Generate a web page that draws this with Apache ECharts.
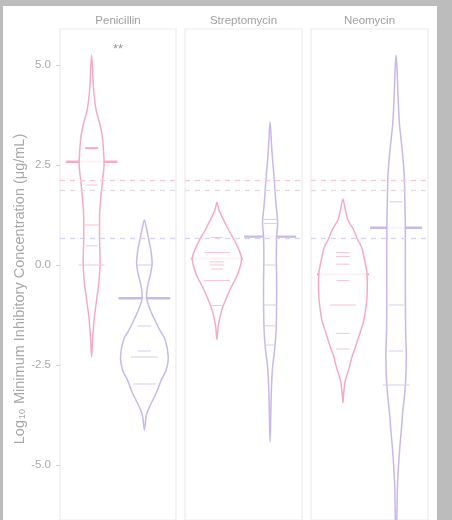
<!DOCTYPE html>
<html>
<head>
<meta charset="utf-8">
<script src="https://cdn.jsdelivr.net/npm/echarts@6/dist/echarts.min.js"></script>
<style>html,body{margin:0;padding:0;background:#bcbcbc;overflow:hidden;}#c{width:452px;height:520px;}</style>
</head>
<body>
<div id="c"></div>
<script>
// ---------- DATA ----------
const drugs = ['Penicillin', 'Streptomycin', 'Neomycin'];
const yTicks = [-5, -2.5, 0, 2.5, 5];
const yRange = [-6.375, 5.9];
const referenceLines = [2.125, 1.875, 0.67];
const significance = [['**', 0, 0.5, 5.38]]; // text, panel, x, y

// violin profiles: [log10 MIC, half-width (category units)]
const penicillinPinkProfile = [[5.25,0],[4.875,0.019],[4.375,0.038],[3.875,0.085],[3.55,0.151],[3.25,0.198],[2.95,0.221],[2.5,0.236],[2.125,0.208],[1.625,0.17],[1.25,0.151],[0.625,0.151],[0,0.16],[-0.5,0.132],[-0.875,0.094],[-1.375,0.047],[-1.875,0.019],[-2.3,0]];
const penicillinPurpleProfile = [[1.125,0],[0.875,0.047],[0.625,0.085],[0.375,0.123],[0.05,0.147],[-0.25,0.113],[-0.5,0.066],[-0.825,0.042],[-1.125,0.113],[-1.375,0.198],[-1.625,0.292],[-1.875,0.396],[-2.3,0.453],[-2.625,0.415],[-2.875,0.321],[-3.2,0.226],[-3.5,0.113],[-3.75,0.038],[-4.125,0]];
const streptomycinPinkProfile = [[1.56,0],[1.375,0.038],[1.21,0.094],[0.875,0.22],[0.54,0.358],[0.17,0.462],[-0.21,0.396],[-0.625,0.242],[-1.04,0.113],[-1.21,0.075],[-1.54,0.023],[-1.86,0]];
const streptomycinPurpleProfile = [[3.575,0],[3.05,0.025],[2.625,0.047],[2.2,0.075],[1.55,0.109],[1.075,0.142],[0.7,0.123],[0.125,0.117],[-0.375,0.123],[-0.875,0.123],[-1.625,0.113],[-2.125,0.085],[-2.55,0.047],[-3.0,0.028],[-3.375,0.019],[-3.875,0.011],[-4.425,0]];
const neomycinPinkProfile = [[1.65,0],[1.375,0.047],[1.125,0.094],[0.875,0.204],[0.625,0.28],[0.45,0.349],[0.2,0.396],[-0.225,0.453],[-0.8,0.453],[-1.125,0.425],[-1.375,0.396],[-1.7,0.321],[-2.05,0.236],[-2.3,0.17],[-2.55,0.123],[-2.875,0.047],[-3.2,0.015],[-3.45,0]];
const neomycinPurpleProfile = [[5.25,0],[4.875,0.019],[4.375,0.032],[3.55,0.062],[2.95,0.109],[2.3,0.151],[1.625,0.164],[0.95,0.174],[-0.375,0.174],[-1.625,0.179],[-2.25,0.192],[-3.0,0.175],[-3.8,0.117],[-4.05,0.104],[-4.625,0.066],[-5.45,0.028],[-6.3,0.015],[-7.0,0]];

// individual observations: [log10 MIC, half-width, count]
const penicillinPinkObs = [[2.92,0.123,2],[2.0,0.113,1],[1.0,0.13,1],[0.48,0.113,1],[0.0,0.245,1]];
const penicillinPurpleObs = [[0.0,0.142,1],[-1.525,0.132,1],[-2.15,0.123,1],[-2.3,0.255,1],[-2.975,0.21,1]];
const streptomycinPinkObs = [[0.69,0.113,1],[0.31,0.245,1],[0.08,0.132,1],[0.0,0.132,1],[-0.1,0.113,1],[-0.39,0.245,1],[-1.01,0.1,1]];
const streptomycinPurpleObs = [[1.14,0.123,1],[1.04,0.123,1],[0.0,0.113,1],[-1.0,0.123,1],[-1.52,0.113,1],[-2.0,0.094,1]];
const neomycinPinkObs = [[0.31,0.125,1],[0.21,0.13,1],[0.02,0.125,1],[-0.39,0.12,1],[-1.0,0.25,1],[-1.71,0.125,1],[-2.1,0.125,1]];
const neomycinPurpleObs = [[1.58,0.125,1],[-1.0,0.14,1],[-2.15,0.13,1],[-3.0,0.25,1]];

// medians [pink, purple]
const penicillinMedians = [2.58, -0.83];
const streptomycinMedians = [0.16, 0.71];
const neomycinMedians = [-0.23, 0.93];

// ---------- STYLE / LAYOUT ----------
const FONT = 'Liberation Sans, Arial, sans-serif';
const panelLeft = [60, 185, 311];
const panelWidth = [116, 117, 117];
const gridTop = 29;
const outline = ['#f6abc5', '#c9b8ea'];
const obsColor = ['#f8c2d5', '#d6cbf0'];
const refColors = ['#f8c7d7', '#dedede', '#d8d1f1'];

const profiles = [
  [penicillinPinkProfile, penicillinPurpleProfile],
  [streptomycinPinkProfile, streptomycinPurpleProfile],
  [neomycinPinkProfile, neomycinPurpleProfile]
];
const observations = [
  [penicillinPinkObs, penicillinPurpleObs],
  [streptomycinPinkObs, streptomycinPurpleObs],
  [neomycinPinkObs, neomycinPurpleObs]
];
const medians = [penicillinMedians, streptomycinMedians, neomycinMedians];

const series = [];
drugs.forEach((d, p) => {
  series.push({
    type: 'line', xAxisIndex: p, yAxisIndex: p, data: [], silent: true, z: 1,
    markLine: {
      silent: true, symbol: 'none', animation: false, label: {show: false},
      data: referenceLines.map((v, k) => ({yAxis: v, lineStyle: {color: refColors[k], type: [5, 5], width: 1.3}}))
    }
  });
  series.push({
    type: 'custom', xAxisIndex: p, yAxisIndex: p, silent: true, z: 2, animation: false,
    data: medians[p].map((m, g) => [g, m]),
    renderItem: (params, api) => {
      const g = api.value(0), m = api.value(1);
      const a = api.coord([g - 0.49, m]), b = api.coord([g + 0.49, m]);
      return {type: 'line', shape: {x1: a[0], y1: a[1], x2: b[0], y2: b[1]},
        style: {stroke: outline[g], lineWidth: 2.4}};
    }
  });
  [0, 1].forEach(g => {
    const prof = profiles[p][g];
    series.push({
      type: 'custom', xAxisIndex: p, yAxisIndex: p, silent: true, z: 3, animation: false,
      data: [[g]],
      renderItem: (params, api) => {
        const c = api.value(0);
        const L = prof.map(q => api.coord([c - q[1], q[0]]));
        const R = prof.map(q => api.coord([c + q[1], q[0]])).reverse().slice(1, -1);
        return {type: 'polygon', shape: {points: L.concat(R), smooth: 0.3},
          style: {fill: 'rgba(255,255,255,0.86)', stroke: outline[c], lineWidth: 1.5}};
      }
    });
    series.push({
      type: 'custom', xAxisIndex: p, yAxisIndex: p, silent: true, z: 4, animation: false,
      data: observations[p][g].map(o => [g, o[0], o[1], o[2]]),
      renderItem: (params, api) => {
        const c = api.value(0), v = api.value(1), w = api.value(2), n = api.value(3);
        const a = api.coord([c - w, v]), b = api.coord([c + w, v]);
        return {type: 'line', shape: {x1: a[0], y1: a[1], x2: b[0], y2: b[1]},
          style: {stroke: n > 1 ? outline[c] : obsColor[c], lineWidth: n > 1 ? 2 : 1}};
      }
    });
  });
});
series.push({
  type: 'custom', xAxisIndex: 0, yAxisIndex: 0, silent: true, z: 5, animation: false,
  data: significance.map(s => [s[2], s[3]]),
  renderItem: (params, api) => {
    const pt = api.coord([api.value(0), api.value(1)]);
    return {type: 'text', x: pt[0], y: pt[1],
      style: {text: significance[params.dataIndex][0], fill: '#9a9a9a', font: '13px ' + FONT, align: 'center', verticalAlign: 'middle'}};
  }
});

const option = {
  backgroundColor: '#bcbcbc',
  animation: false,
  textStyle: {fontFamily: FONT},
  grid: drugs.map((d, i) => ({left: panelLeft[i], width: panelWidth[i], top: gridTop, bottom: 0,
    show: true, borderColor: '#ebebeb', borderWidth: 1.2, backgroundColor: 'transparent'})),
  xAxis: drugs.map((d, i) => ({type: 'value', gridIndex: i, min: -0.6, max: 1.6, show: false})),
  yAxis: drugs.map((d, i) => ({
    type: 'value', gridIndex: i, min: yRange[0], max: yRange[1],
    axisLine: {show: false, onZero: false}, splitLine: {show: false},
    axisTick: {show: i === 0, length: 4, lineStyle: {color: '#d0d0d0'}, customValues: yTicks},
    axisLabel: {show: i === 0, margin: 9, color: '#aaaaaa', fontSize: 11.5, fontFamily: FONT,
      customValues: yTicks, formatter: v => v.toFixed(1)}
  })),
  graphic: [
    {type: 'rect', z: -100, shape: {x: 3, y: 6, width: 434, height: 520}, style: {fill: '#ffffff'}, silent: true},
    ...drugs.map((d, i) => ({type: 'text', z: 100, x: panelLeft[i] + panelWidth[i] / 2, y: 21,
      style: {text: d, fill: '#a0a0a0', font: '11.5px ' + FONT, align: 'center', verticalAlign: 'middle'}})),
    {type: 'text', z: 100, x: 20, y: 289, rotation: Math.PI / 2,
      style: {text: 'Log{sub|10} Minimum Inhibitory Concentration (μg/mL)', fill: '#a8a8a8',
        font: '14.5px ' + FONT, align: 'center', verticalAlign: 'middle',
        rich: {sub: {fontSize: 9, fill: '#a8a8a8', fontFamily: FONT, padding: [6, 1, 0, 1]}}}}
  ],
  series: series
};
const chart = echarts.init(document.getElementById('c'), null, {renderer: 'canvas'});
chart.setOption(option);
</script>
</body>
</html>
